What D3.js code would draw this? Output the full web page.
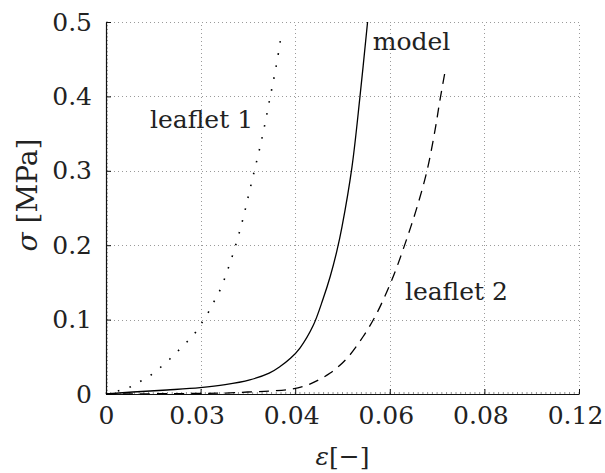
<!DOCTYPE html>
<html>
<head>
<meta charset="utf-8">
<script src="https://cdn.jsdelivr.net/npm/d3@7"></script>
<style>
  html, body { margin: 0; padding: 0; background: #fff; }
  svg text { font-family: "DejaVu Serif", serif; fill: #222; }
</style>
</head>
<body>
<svg id="chart" width="605" height="473"></svg>
<script>
// strain / stress curves (strain [-], stress [MPa])
const leaflet1Strain = [0, 0.0025, 0.0051, 0.0074, 0.0095, 0.0116, 0.0135, 0.0154, 0.0173, 0.019, 0.0204, 0.0218, 0.023, 0.0242, 0.026, 0.0276, 0.029, 0.0302, 0.0314, 0.0326, 0.0337, 0.0347, 0.0357, 0.0366, 0.037];
const leaflet1Stress = [0, 0.004, 0.0094, 0.0175, 0.0255, 0.0363, 0.047, 0.059, 0.0712, 0.0833, 0.097, 0.1116, 0.1263, 0.141, 0.172, 0.204, 0.2366, 0.2688, 0.301, 0.333, 0.366, 0.399, 0.431, 0.464, 0.481];

const modelStrain = [0, 0.0057, 0.0129, 0.0199, 0.0252, 0.0304, 0.0345, 0.0368, 0.039, 0.041, 0.0438, 0.0459, 0.0474, 0.0488, 0.0499, 0.052, 0.0537, 0.0553];
const modelStress = [0, 0.0027, 0.0054, 0.0085, 0.0125, 0.019, 0.028, 0.037, 0.048, 0.0618, 0.092, 0.128, 0.158, 0.192, 0.225, 0.305, 0.400, 0.5];

const leaflet2Strain = [0, 0.0252, 0.030, 0.0347, 0.0393, 0.0431, 0.0474, 0.051, 0.0543, 0.0568, 0.059, 0.0611, 0.0628, 0.0644, 0.0658, 0.0679, 0.0696, 0.0706, 0.0717];
const leaflet2Stress = [0, 0.0013, 0.0027, 0.004, 0.0067, 0.0134, 0.0282, 0.0484, 0.0766, 0.103, 0.132, 0.164, 0.194, 0.224, 0.252, 0.301, 0.356, 0.395, 0.434];

// axis ticks and their printed labels
const xTickValues = [0, 0.02, 0.04, 0.06, 0.08, 0.1];
const xTickLabels = ["0", "0.03", "0.04", "0.06", "0.08", "0.12"];
const yTickValues = [0, 0.1, 0.2, 0.3, 0.4, 0.5];
const yTickLabels = ["0", "0.1", "0.2", "0.3", "0.4", "0.5"];

// curve annotations
const annotations = [
  { text: "model", strain: 0.0564, stress: 0.463 },
  { text: "leaflet 1", strain: 0.0093, stress: 0.358 },
  { text: "leaflet 2", strain: 0.0632, stress: 0.126 }
];

const svg = d3.select("#chart");
const margin = { left: 106, right: 26, top: 22, bottom: 79 };
const W = 605, H = 473;

const x = d3.scaleLinear().domain([0, 0.1]).range([margin.left, W - margin.right]);
const y = d3.scaleLinear().domain([0, 0.5]).range([H - margin.bottom, margin.top]);

// dotted grid
const grid = svg.append("g").attr("stroke", "#9a9a9a").attr("stroke-width", 1).attr("stroke-dasharray", "1,3");
grid.selectAll("line.gx").data(xTickValues.slice(1)).join("line")
  .attr("x1", d => Math.round(x(d)) + 0.5).attr("x2", d => Math.round(x(d)) + 0.5)
  .attr("y1", y(0)).attr("y2", y(0.5));
grid.selectAll("line.gy").data(yTickValues.slice(1)).join("line")
  .attr("y1", d => Math.round(y(d)) + 0.5).attr("y2", d => Math.round(y(d)) + 0.5)
  .attr("x1", x(0)).attr("x2", x(0.1));

// minor ticks
const minor = svg.append("g").attr("stroke", "#777").attr("stroke-width", 0.8);
minor.selectAll("line.mx").data(d3.range(0, 0.1001, 0.001)).join("line")
  .attr("x1", d => x(d)).attr("x2", d => x(d))
  .attr("y1", y(0)).attr("y2", y(0) - 2);
minor.selectAll("line.my").data(d3.range(0, 0.5001, 0.005)).join("line")
  .attr("y1", d => y(d)).attr("y2", d => y(d))
  .attr("x1", x(0)).attr("x2", x(0) + 2);

// axes
const xAxis = d3.axisBottom(x).tickValues(xTickValues)
  .tickFormat((d, i) => xTickLabels[i]).tickSizeInner(-5).tickSizeOuter(0).tickPadding(12);
const yAxis = d3.axisLeft(y).tickValues(yTickValues)
  .tickFormat((d, i) => yTickLabels[i]).tickSizeInner(-5).tickSizeOuter(0).tickPadding(14);

const gx = svg.append("g").attr("transform", `translate(0,${y(0)})`).call(xAxis);
const gy = svg.append("g").attr("transform", `translate(${x(0)},0)`).call(yAxis);
[gx, gy].forEach(g => {
  g.select(".domain").attr("stroke", "#111").attr("stroke-width", 1.2);
  g.selectAll(".tick line").attr("stroke", "#111").attr("stroke-width", 1);
  g.selectAll(".tick text").attr("font-family", "DejaVu Serif").attr("font-size", 25).attr("fill", "#222");
});
gx.selectAll(".tick text").attr("dy", "0.72em").attr("dx", (d, i) => i === 0 ? 0 : -4);

// curves
const line = d3.line().x(d => x(d[0])).y(d => y(d[1])).curve(d3.curveCatmullRom.alpha(0.5));
const zipPts = (a, b) => a.map((v, i) => [v, b[i]]);

svg.append("path").datum(zipPts(modelStrain, modelStress))
  .attr("d", line).attr("fill", "none").attr("stroke", "#000").attr("stroke-width", 1.3);
svg.append("path").datum(zipPts(leaflet2Strain, leaflet2Stress))
  .attr("d", line).attr("fill", "none").attr("stroke", "#000").attr("stroke-width", 1.3)
  .attr("stroke-dasharray", "10,7");
svg.append("path").datum(zipPts(leaflet1Strain, leaflet1Stress))
  .attr("d", line).attr("fill", "none").attr("stroke", "#000").attr("stroke-width", 1.6)
  .attr("stroke-dasharray", "1.6,10.6");

// annotations
svg.selectAll("text.annot").data(annotations).join("text")
  .attr("class", "annot")
  .attr("x", d => x(d.strain)).attr("y", d => y(d.stress))
  .attr("font-size", 25)
  .text(d => d.text);

// axis titles
svg.append("text")
  .attr("x", x(0.05)).attr("y", 465)
  .attr("text-anchor", "middle").attr("font-size", 25)
  .html('<tspan font-style="italic">ε</tspan>[−]');

svg.append("text")
  .attr("transform", `translate(37,${y(0.25) - 13}) rotate(-90)`)
  .attr("text-anchor", "middle").attr("font-size", 28)
  .html('<tspan font-style="italic">σ</tspan> [MPa]');
</script>
</body>
</html>
